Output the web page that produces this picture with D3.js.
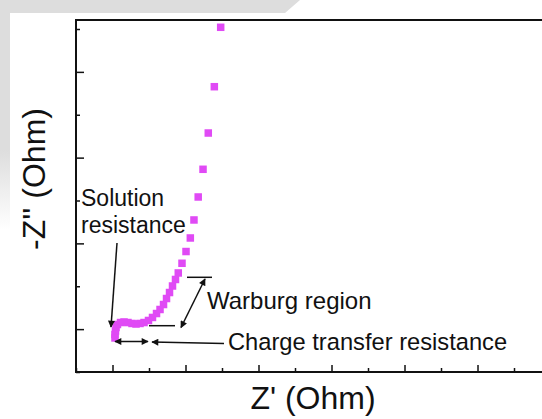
<!DOCTYPE html>
<html>
<head>
<meta charset="utf-8">
<script src="https://cdn.jsdelivr.net/npm/d3@7"></script>
<style>
  html, body { margin: 0; padding: 0; background: #ffffff; }
  svg { display: block; }
  text { font-family: Arial, "Liberation Sans", sans-serif; fill: #111; }
</style>
</head>
<body>
<svg id="chart" width="542" height="419"></svg>
<script>
// Nyquist plot: real impedance Z' against imaginary -Z'' (arbitrary units, Ohm)
const zReal = [19.82, 18.95, 18.12, 17.40, 16.74, 16.16, 15.66, 15.07, 14.52, 14.01,
               13.63, 13.22, 12.81, 12.40, 11.99, 11.51, 11.03, 10.48, 9.93, 9.32,
               8.77, 8.22, 7.67, 7.12, 6.58, 6.10, 5.68, 5.48, 5.41, 5.34, 5.34];
const zImag = [40.20, 33.27, 27.87, 23.64, 20.41, 17.73, 15.63, 14.05, 12.68, 11.55,
               10.79, 10.03, 9.27, 8.57, 7.87, 7.29, 6.82, 6.36, 6.01, 5.77,
               5.66, 5.60, 5.66, 5.77, 5.83, 5.77, 5.54, 5.19, 4.78, 4.37, 3.97];

const xTicks = d3.range(0, 70, 5);   // minor every 5, major at odd multiples of 5
const yTicks = d3.range(0, 45, 5);

const xDomain = [0, 66.3];
const yDomain = [0, 41.05];

const axisLabelX = "Z' (Ohm)";
const axisLabelY = "-Z'' (Ohm)";
const noteSolution = ["Solution", "resistance"];
const noteWarburg = "Warburg region";
const noteCharge = "Charge transfer resistance";

const svg = d3.select("#chart");
const W = 542, H = 419;
const mLeft = 76, mTop = 20, mBottom = 372, mRight = 560;

const x = d3.scaleLinear().domain(xDomain).range([mLeft, mRight]);
const y = d3.scaleLinear().domain(yDomain).range([mBottom, mTop]);

const defs = svg.append("defs");

// soft grey backdrop band along the upper-left edge
svg.append("rect").attr("width", W).attr("height", H).attr("fill", "#fff");
const grad = defs.append("linearGradient")
  .attr("id", "fadeLeft").attr("x1", 0).attr("y1", 0).attr("x2", 0).attr("y2", 1);
grad.append("stop").attr("offset", "0%").attr("stop-color", "#dddddd");
grad.append("stop").attr("offset", "100%").attr("stop-color", "#ffffff");
svg.append("path")
  .attr("d", "M0,0 L300,0 L285,13 L10,13 L10,150 L0,150 Z")
  .attr("fill", "#dddddd");
svg.append("rect")
  .attr("x", 0).attr("y", 150).attr("width", 10).attr("height", 80)
  .attr("fill", "url(#fadeLeft)");

// marker for annotation arrows
defs.append("marker")
  .attr("id", "head").attr("viewBox", "0 0 10 10")
  .attr("refX", 9).attr("refY", 5)
  .attr("markerWidth", 9).attr("markerHeight", 7)
  .attr("markerUnits", "userSpaceOnUse")
  .attr("orient", "auto-start-reverse")
  .append("path").attr("d", "M0,0 L10,5 L0,10 Z").attr("fill", "#111");

// frame
const frame = svg.append("g").attr("stroke", "#111").attr("stroke-width", 2).attr("fill", "none");
frame.append("line").attr("x1", mLeft).attr("x2", mLeft).attr("y1", mTop - 1).attr("y2", mBottom + 1);
frame.append("line").attr("x1", mLeft - 1).attr("x2", W + 5).attr("y1", mTop).attr("y2", mTop);
frame.append("line").attr("x1", mLeft - 1).attr("x2", W + 5).attr("y1", mBottom).attr("y2", mBottom);

// inward ticks, no labels
const isMajor = v => Math.round(v) % 10 === 5;
const xAxis = d3.axisBottom(x).tickValues(xTicks).tickFormat("").tickSizeOuter(0);
const gx = svg.append("g").attr("transform", `translate(0,${mBottom})`).call(xAxis);
gx.select(".domain").remove();
gx.selectAll(".tick line")
  .attr("y2", d => -(isMajor(d) ? 7 : 4))
  .attr("stroke", "#111").attr("stroke-width", 1.5);

const yAxis = d3.axisLeft(y).tickValues(yTicks).tickFormat("").tickSizeOuter(0);
const gy = svg.append("g").attr("transform", `translate(${mLeft},0)`).call(yAxis);
gy.select(".domain").remove();
gy.selectAll(".tick line")
  .attr("x2", d => (isMajor(d) ? 8 : 4))
  .attr("stroke", "#111").attr("stroke-width", 1.5);

// data squares
const pts = zReal.map((v, i) => ({ re: v, im: zImag[i] }));
const sz = 7.5;
svg.append("g").selectAll("rect").data(pts).join("rect")
  .attr("x", d => x(d.re) - sz / 2)
  .attr("y", d => y(d.im) - sz / 2)
  .attr("width", sz).attr("height", sz)
  .attr("fill", "#e04af5");

// axis titles
svg.append("text")
  .attr("x", 313).attr("y", 409)
  .attr("text-anchor", "middle")
  .attr("font-size", 32)
  .text(axisLabelX);
svg.append("text")
  .attr("transform", "translate(45,179) rotate(-90)")
  .attr("text-anchor", "middle")
  .attr("font-size", 32)
  .text(axisLabelY);

// annotations
const ann = svg.append("g").attr("stroke", "#111").attr("stroke-width", 1.5).attr("fill", "none");
// solution resistance pointer
ann.append("line")
  .attr("x1", 117).attr("y1", 243).attr("x2", 111).attr("y2", 327)
  .attr("marker-end", "url(#head)");
// charge transfer span (double headed)
ann.append("line")
  .attr("x1", x(zReal[zReal.length - 1])).attr("y1", 341.5).attr("x2", 148).attr("y2", 341.5)
  .attr("marker-start", "url(#head)").attr("marker-end", "url(#head)");
ann.append("line")
  .attr("x1", 224).attr("y1", 343.5).attr("x2", 152).attr("y2", 342)
  .attr("marker-end", "url(#head)");
// Warburg bounds
ann.append("line").attr("x1", 187).attr("y1", 277.3).attr("x2", 212).attr("y2", 277.3);
ann.append("line").attr("x1", 149).attr("y1", 325.7).attr("x2", 175).attr("y2", 325.7);
ann.append("line")
  .attr("x1", 205).attr("y1", 279).attr("x2", 181).attr("y2", 327.5)
  .attr("marker-start", "url(#head)").attr("marker-end", "url(#head)");

svg.append("text").attr("x", 81).attr("y", 206).attr("font-size", 23).text(noteSolution[0]);
svg.append("text").attr("x", 81).attr("y", 233).attr("font-size", 23).text(noteSolution[1]);
svg.append("text").attr("x", 207).attr("y", 309).attr("font-size", 24).text(noteWarburg);
svg.append("text").attr("x", 228).attr("y", 350).attr("font-size", 23.7).text(noteCharge);
</script>
</body>
</html>
